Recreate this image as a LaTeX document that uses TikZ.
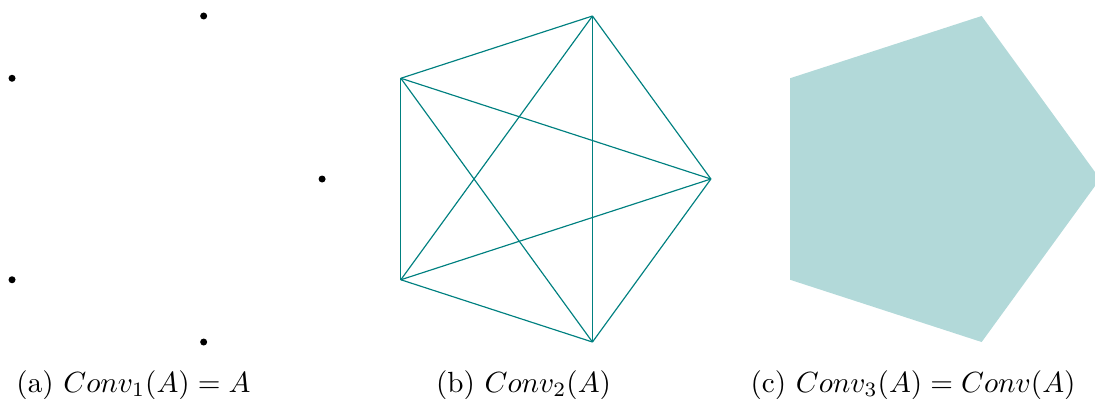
\documentclass[tikz,border=0pt]{standalone}
\begin{document}
\begin{tikzpicture}[x=0.3428pt,y=-0.3428pt,
  dotnode/.style={circle,fill=black,inner sep=0pt,minimum size=2.4pt},
  edgeline/.style={draw=teal,line width=0.4pt},
  captxt/.style={anchor=base,inner sep=0pt}]
\useasboundingbox (0,0) rectangle (1095,398);
\def\R{171.4}
% panel a
\foreach \i in {0,...,4}{
  \node[dotnode] (a\i) at ({150.7+\R*cos(72*\i)},{179-\R*sin(72*\i)}) {};
}
% panel b
\foreach \i in {0,...,4}{
  \coordinate (b\i) at ({539.5+\R*cos(72*\i)},{179-\R*sin(72*\i)});
}
\foreach \i/\j in {0/1,0/2,0/3,0/4,1/2,1/3,1/4,2/3,2/4,3/4}{
  \draw[edgeline] (b\i) -- (b\j);
}
% panel c
\foreach \i in {0,...,4}{
  \coordinate (c\i) at ({928.7+\R*cos(72*\i)},{179-\R*sin(72*\i)});
}
\fill[teal!30] (c0) -- (c1) -- (c2) -- (c3) -- (c4) -- cycle;
% captions
\node[captxt] (la) at (133.5,392) {(a) $Conv_1(A) = A$};
\node[captxt] (lb) at (523.5,392) {(b) $Conv_2(A)$};
\node[captxt] (lc) at (913,392) {(c) $Conv_3(A) = Conv(A)$};
\end{tikzpicture}
\end{document}
